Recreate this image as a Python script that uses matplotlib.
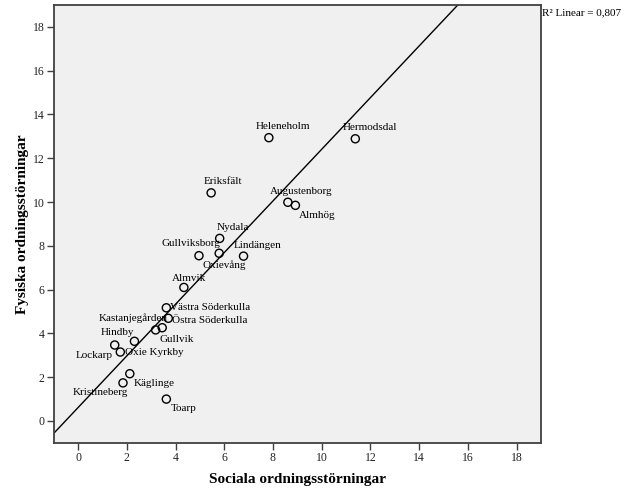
import numpy as np
import matplotlib
matplotlib.use("Agg")
import matplotlib.pyplot as plt

# Stadsdelar i Malmö: sociala vs fysiska ordningsstörningar
areas = ["Heleneholm", "Hermodsdal", "Eriksfält", "Augustenborg", "Almhög",
         "Nydala", "Oxievång", "Lindängen", "Gullviksborg", "Almvik",
         "Västra Söderkulla", "Östra Söderkulla", "Kastanjegården", "Gullvik",
         "Hindby", "Lockarp", "Oxie Kyrkby", "Käglinge", "Kristineberg", "Toarp"]
social = [7.83, 11.38, 5.46, 8.61, 8.92,
          5.81, 5.79, 6.79, 4.96, 4.34,
          3.62, 3.70, 3.18, 3.45,
          2.31, 1.50, 1.73, 2.12, 1.84, 3.62]
physical = [12.94, 12.89, 10.42, 9.99, 9.85,
            8.34, 7.66, 7.53, 7.55, 6.10,
            5.17, 4.69, 4.16, 4.26,
            3.64, 3.47, 3.15, 2.16, 1.74, 1.00]
r2_text = "R\u00b2 Linear = 0,807"

# label placement (offset pixels from the point, text left edge / vertical centre)
label_offsets = [(-13, 11), (-13, 11), (-7, 11), (-18, 11), (3, -10),
                 (-3, 11), (-17, -12), (-10, 11), (-37, 12), (-12, 9),
                 (4, 0), (4, -2), (-57, 12), (-3, -12),
                 (-34, 9), (-39, -10), (5, 0), (4, -10), (-50, -10), (4, -9)]

plt.rcParams["font.family"] = ["Liberation Serif", "DejaVu Serif"]

fig = plt.figure(figsize=(6.26, 5.01), dpi=100)
ax = fig.add_axes([0.086, 0.116, 0.778, 0.874])
ax.set_facecolor("#f0f0f0")

x = np.array(social)
y = np.array(physical)
slope, intercept = np.polyfit(x, y, 1)
xx = np.array([-1, 19])
ax.plot(xx, intercept + slope * xx, color="black", lw=1.0, zorder=2)

ax.scatter(x, y, s=34, facecolors="none", edgecolors="black", linewidths=1.0, zorder=3)

for name, xi, yi, (dx, dy) in zip(areas, x, y, label_offsets):
    ax.annotate(name, (xi, yi), xytext=(dx, dy), textcoords="offset pixels",
                ha="left", va="center", fontsize=8, color="black")

ax.set_xlim(-1, 19)
ax.set_ylim(-1, 19)
ax.set_xticks(range(0, 19, 2))
ax.set_yticks(range(0, 19, 2))

for side in ["top", "right", "left", "bottom"]:
    ax.spines[side].set_color("#404040")
    ax.spines[side].set_linewidth(1.3)
ax.tick_params(axis="both", direction="out", length=5, width=1.0, color="#404040",
               labelsize=8.5, labelcolor="#222222", pad=1.5)

ax.set_xlabel("Sociala ordningsstörningar", fontsize=11, fontweight="bold")
ax.set_ylabel("Fysiska ordningsstörningar", fontsize=11, fontweight="bold")
ax.xaxis.set_label_coords(0.5, -0.068)
ax.yaxis.set_label_coords(-0.052, 0.5)

fig.text(0.866, 0.975, r2_text, fontsize=8, ha="left", va="center")

fig.savefig("out.png", dpi=100, facecolor="white")
